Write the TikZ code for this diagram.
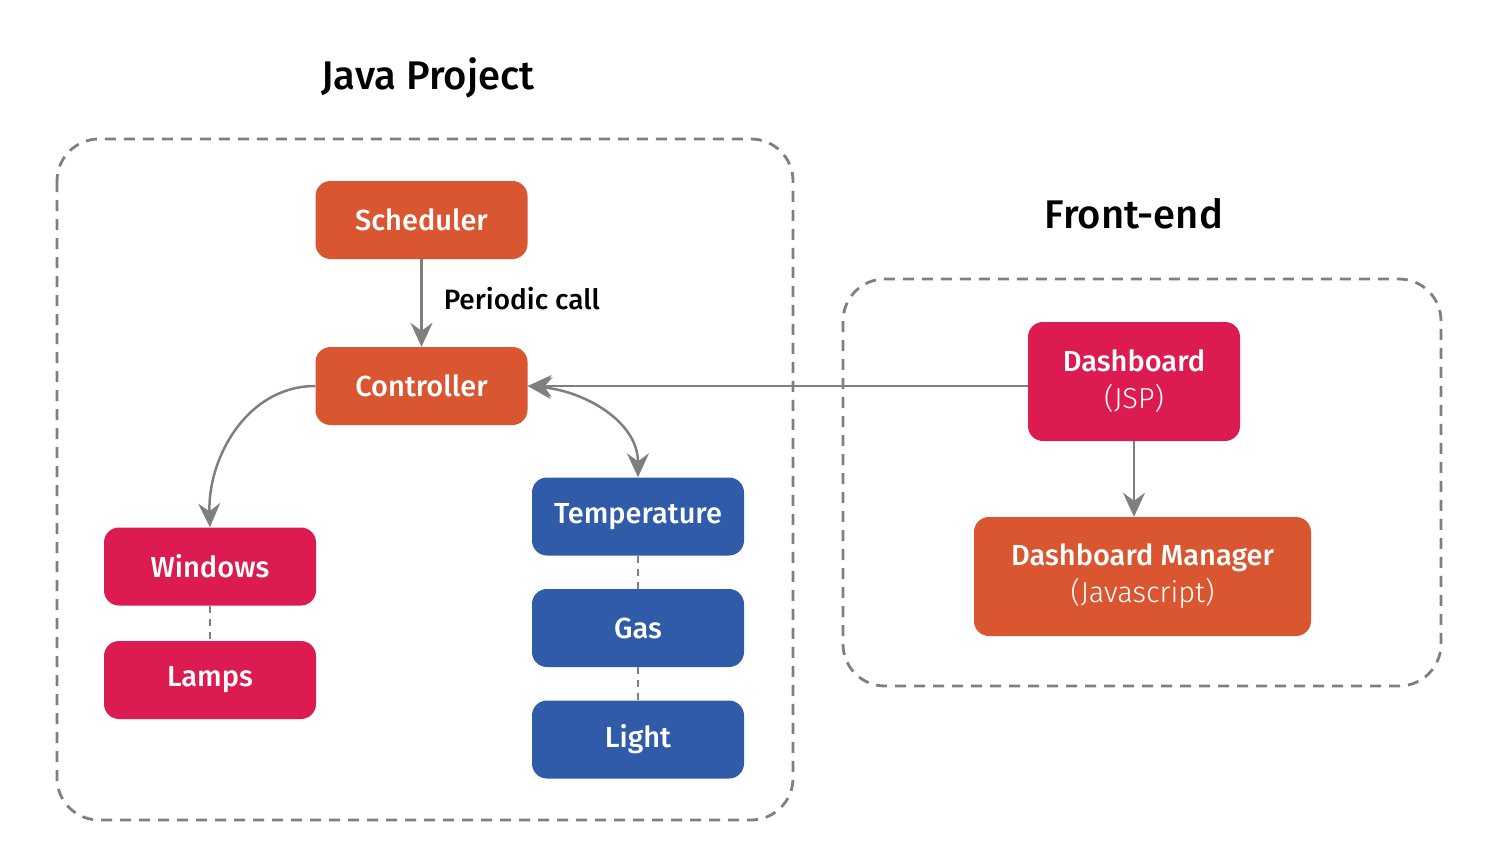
\documentclass[tikz,border=0pt]{standalone}
\usepackage{fontspec}
\setmainfont{Fira Sans}
\newfontfamily\medfont{Fira Sans Medium}
\newfontfamily\litefont{Fira Sans Light}
\usetikzlibrary{arrows.meta}
\definecolor{corange}{HTML}{DA5630}
\definecolor{ccrimson}{HTML}{DC1C50}
\definecolor{cblue}{HTML}{2F5BA8}
\definecolor{cgrey}{HTML}{7F7F7F}
\tikzset{
  box/.style={rounded corners=15pt, inner sep=0pt, text=white, align=center,
    font=\medfont\fontsize{29}{37}\selectfont},
  smallbox/.style={box, minimum width=212pt, minimum height=78pt},
  orangebox/.style={smallbox, fill=corange},
  crimsonbox/.style={smallbox, fill=ccrimson},
  bluebox/.style={smallbox, fill=cblue},
  group/.style={draw=cgrey, line width=2.8pt, dash pattern=on 11pt off 8pt, rounded corners=42pt},
  title/.style={font=\medfont\fontsize{40}{46}\selectfont, text=black},
  arr/.style={draw=cgrey, line width=2.5pt, -{Stealth[length=24pt,width=22pt,inset=8pt]}},
  dualarr/.style={draw=cgrey, line width=2.5pt, {Stealth[length=24pt,width=22pt,inset=8pt]}-{Stealth[length=24pt,width=22pt,inset=8pt]}},
  link/.style={draw=cgrey, line width=2pt, dash pattern=on 7pt off 6pt},
  edgelabel/.style={font=\medfont\fontsize{28}{32}\selectfont, text=black, inner sep=0pt}
}
\begin{document}
\begin{tikzpicture}[x=1pt,y=-1pt]
\useasboundingbox (0,0) rectangle (1500,857);
% group frames
\draw[group] (57,139) rectangle (793,820);
\draw[group] (843,279) rectangle (1441,686);
\node[title] (jtitle) at (428,78) {Java Project};
\node[title] (ftitle) at (1134,214) {Front-end};
% nodes
\node[orangebox] (sched) at (421.5,220) {Scheduler};
\node[orangebox] (ctrl) at (421.5,386) {Controller};
\node[crimsonbox] (win) at (210,566.5) {Windows};
\node[crimsonbox] (lamps) at (210,680) {Lamps};
\node[bluebox] (temp) at (638,516.5) {Temperature};
\node[bluebox] (gas) at (638,628) {Gas};
\node[bluebox] (light) at (638,739.5) {Light};
\node[box, fill=ccrimson, minimum width=212pt, minimum height=119pt] (dash) at (1134,381.5)
  {Dashboard\\{\litefont (JSP)}};
\node[box, fill=corange, minimum width=337pt, minimum height=119pt] (mgr) at (1142.5,576.5)
  {Dashboard Manager\\{\litefont (Javascript)}};
% connectors
\draw[arr] (sched.south) -- node[pos=0.45, anchor=west, xshift=21pt, edgelabel] (plabel) {Periodic call} (ctrl.north);
\draw[arr] (dash.west |- ctrl.east) -- (ctrl.east);
\draw[dualarr] (ctrl.east) to[out=-5, in=90] (temp.north);
\draw[arr] (ctrl.west) to[out=180, in=92] (win.north);
\draw[arr] (dash.south) -- (dash.south |- mgr.north);
\draw[link] (win.south) -- (lamps.north);
\draw[link] (temp.south) -- (gas.north);
\draw[link] (gas.south) -- (light.north);
\end{tikzpicture}
\end{document}
